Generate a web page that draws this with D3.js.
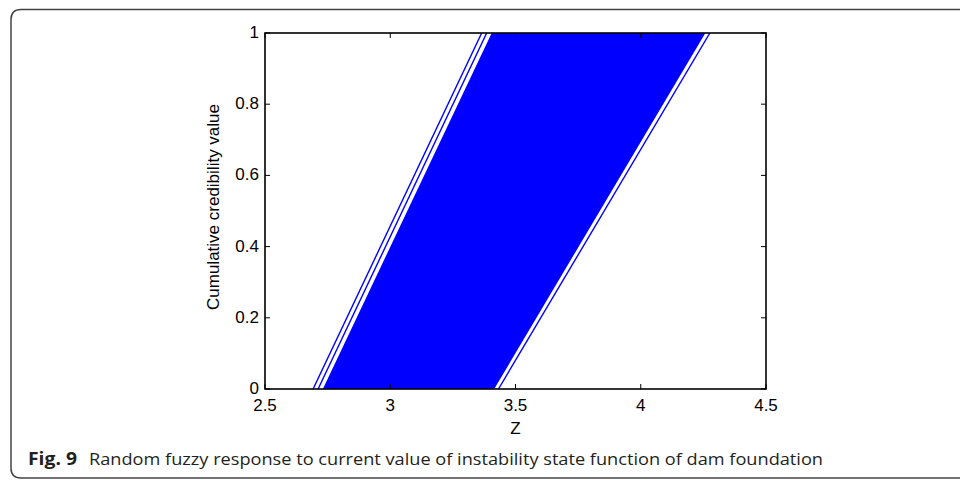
<!DOCTYPE html>
<html>
<head>
<meta charset="utf-8">
<script src="https://cdn.jsdelivr.net/npm/d3@7"></script>
<style>
  body { margin: 0; background: #fff; }
  svg { display: block; }
</style>
</head>
<body>
<svg id="fig" width="960" height="480"></svg>
<script>
// axis ticks
const xTicks = [2.5, 3, 3.5, 4, 4.5];
const yTicks = [0, 0.2, 0.4, 0.6, 0.8, 1];

// separate response lines: Z where credibility = 0 and where credibility = 1
const lineZ0 = [2.692, 2.712, 3.432];
const lineZ1 = [3.365, 3.385, 4.276];

// dense bundle of lines, drawn as its envelope (lower / upper Z at credibility 0 and 1)
const bandCred = [0, 1];
const bandLow = [2.731, 3.405];
const bandHigh = [3.415, 4.258];

const margin = { left: 265, top: 33, right: 194, bottom: 91 };
const W = 960, H = 480;
const iw = W - margin.left - margin.right;
const ih = H - margin.top - margin.bottom;

const svg = d3.select('#fig');

// outer figure frame (rounded on the left, open on the right)
const r = 10;
svg.append('path')
    .attr('d', `M${W + 2},9.5 H${11 + r} Q11,9.5 11,${9.5 + r} V${478 - r} Q11,478 ${11 + r},478 H${W + 2}`)
    .attr('fill', 'none')
    .attr('stroke', '#444')
    .attr('stroke-width', 1.5);

const x = d3.scaleLinear().domain([2.5, 4.5]).range([0, iw]);
const y = d3.scaleLinear().domain([0, 1]).range([ih, 0]);

const g = svg.append('g').attr('transform', `translate(${margin.left},${margin.top})`);

g.append('clipPath').attr('id', 'clip')
    .append('rect').attr('width', iw).attr('height', ih);

const plot = g.append('g').attr('clip-path', 'url(#clip)');

// band of lines
const band = bandCred.map((c, i) => ({ c, lo: bandLow[i], hi: bandHigh[i] }));
plot.append('path')
    .datum(band)
    .attr('fill', '#0000ff')
    .attr('d', d3.area().y(d => y(d.c)).x0(d => x(d.lo)).x1(d => x(d.hi)));

// single lines
const line = d3.line().x(d => x(d[0])).y(d => y(d[1]));
lineZ0.forEach((z0, i) => {
    plot.append('path')
        .datum([[z0, 0], [lineZ1[i], 1]])
        .attr('fill', 'none')
        .attr('stroke', '#0000ff')
        .attr('stroke-width', 1.4)
        .attr('d', line);
});

// axes, MATLAB style: inward ticks on all four sides
const font = '"Liberation Sans", Arial, sans-serif';
const fs = 17;
const tl = 5;

g.append('rect')
    .attr('width', iw).attr('height', ih)
    .attr('fill', 'none')
    .attr('stroke', '#000')
    .attr('stroke-width', 1.6);

const ticks = g.append('g').attr('stroke', '#000').attr('stroke-width', 1);
xTicks.forEach(t => {
    ticks.append('line').attr('x1', x(t)).attr('x2', x(t)).attr('y1', ih).attr('y2', ih - tl);
    ticks.append('line').attr('x1', x(t)).attr('x2', x(t)).attr('y1', 0).attr('y2', tl);
});
yTicks.forEach(t => {
    ticks.append('line').attr('y1', y(t)).attr('y2', y(t)).attr('x1', 0).attr('x2', tl);
    ticks.append('line').attr('y1', y(t)).attr('y2', y(t)).attr('x1', iw).attr('x2', iw - tl);
});

g.selectAll('text.xt')
    .data(xTicks)
    .join('text')
    .attr('class', 'xt')
    .attr('x', d => x(d))
    .attr('y', ih + 22)
    .attr('text-anchor', 'middle')
    .attr('font-family', font)
    .attr('font-size', fs)
    .text(d => d);

g.selectAll('text.yt')
    .data(yTicks)
    .join('text')
    .attr('class', 'yt')
    .attr('x', -6)
    .attr('y', d => y(d) + 5)
    .attr('text-anchor', 'end')
    .attr('font-family', font)
    .attr('font-size', fs)
    .text(d => d);

g.append('text')
    .attr('x', iw / 2)
    .attr('y', ih + 45)
    .attr('text-anchor', 'middle')
    .attr('font-family', font)
    .attr('font-size', fs)
    .text('Z');

g.append('text')
    .attr('transform', `translate(-46,${ih / 2 - 4}) rotate(-90)`)
    .attr('text-anchor', 'middle')
    .attr('font-family', font)
    .attr('font-size', fs)
    .text('Cumulative credibility value');

// caption
const cap = svg.append('text')
    .attr('y', 465)
    .attr('font-family', '"Open Sans", "Noto Sans", sans-serif')
    .attr('font-size', 17)
    .attr('fill', '#231f20');
cap.append('tspan').attr('x', 28).attr('font-weight', 'bold')
    .attr('textLength', 49).attr('lengthAdjust', 'spacingAndGlyphs')
    .text('Fig. 9');
cap.append('tspan').attr('x', 89)
    .attr('textLength', 734).attr('lengthAdjust', 'spacingAndGlyphs')
    .text('Random fuzzy response to current value of instability state function of dam foundation');
</script>
</body>
</html>
